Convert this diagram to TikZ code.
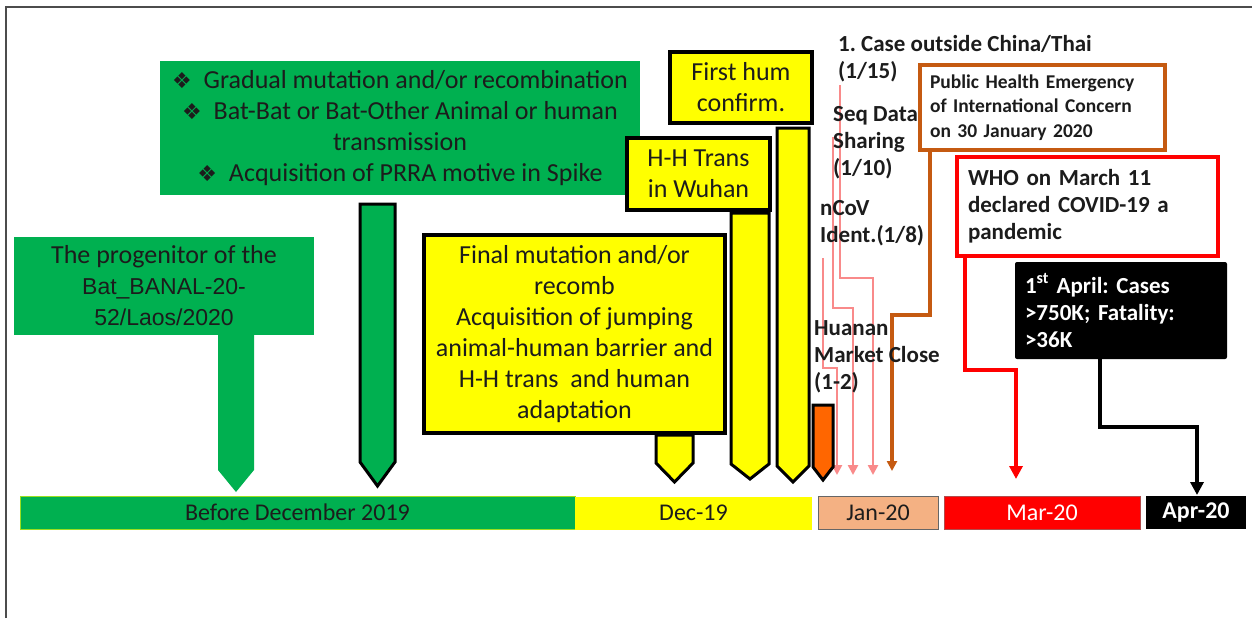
\documentclass[tikz,border=0pt]{standalone}
\usepackage{fontspec}
\setmainfont{Carlito}
\newfontfamily\dejavufont{DejaVu Sans}
\newfontfamily\arialfont{Liberation Sans}
\usetikzlibrary{arrows.meta,backgrounds}
\frenchspacing
\definecolor{tlgreen}{HTML}{00B050}
\definecolor{tlyellow}{HTML}{FFFF00}
\definecolor{tlorange}{HTML}{FF6600}
\definecolor{tlsalmon}{HTML}{F4B183}
\definecolor{tlred}{HTML}{FF0000}
\definecolor{tlbrown}{HTML}{C55A11}
\definecolor{tlpink}{HTML}{F98A8A}
\definecolor{txtdark}{HTML}{1C1C1C}
\newcommand\tlbul{{\dejavufont\fontsize{22}{22}\selectfont ❖}}
\begin{document}
\begin{tikzpicture}[x=1pt,y=-1pt,
  box/.style={inner sep=0pt, align=center, text=txtdark},
  greenbox/.style={box, fill=tlgreen},
  yelbox/.style={box, fill=tlyellow, draw=black, line width=3.5pt},
  big/.style={font=\fontsize{26}{31}\selectfont},
  lbl/.style={inner sep=0pt, align=left, anchor=west, text=txtdark, font=\bfseries\fontsize{23}{27}\selectfont},
  bar/.style={inner sep=0pt, minimum height=33pt, font=\fontsize{24}{26}\selectfont, text=txtdark},
  yarrow/.style={fill=tlyellow, draw=black, line width=3pt, line join=miter},
  conn/.style={line width=2.6pt},
  tip/.style={-{Triangle[length=10pt,width=10pt]}},
  bigtip/.style={-{Triangle[length=13pt,width=13pt]}}
]
\useasboundingbox (0,0) rectangle (1252,618);
\begin{scope}[on background layer]
\fill[white] (0,0) rectangle (1252,618);
\end{scope}
\draw[gray!60!black, line width=1.2pt] (6,618) -- (6,7) -- (1252,7);

% timeline bars
\node[bar, fill=tlgreen, draw=tlyellow!60!tlgreen, line width=0.8pt, minimum width=555pt] (before) at (297.5,512.5) {Before December 2019};
\node[bar, fill=tlyellow, minimum width=237pt] (dec) at (693.5,513) {Dec-19};
\node[bar, fill=tlsalmon, draw=gray!80!black, line width=0.8pt, minimum width=120pt] (jan) at (878,512.5) {Jan-20};
\node[bar, fill=tlred, draw=gray!60!red, line width=0.8pt, minimum width=196pt, text=white] (mar) at (1042,512.5) {Mar-20};
\node[bar, fill=black, minimum width=100pt, text=white, font=\bfseries\fontsize{24}{26}\selectfont] (apr) at (1196,512.5) {Apr-20};

% green boxes
\node[greenbox, big, minimum width=480pt, minimum height=134pt] (gradual) at (400,128)
  {\tlbul\ \ Gradual mutation and/or recombination\\
   \tlbul\ \ Bat-Bat or Bat-Other Animal or human\\
   transmission\\
   \tlbul\ \ Acquisition of PRRA motive in Spike};
\node[greenbox, big, minimum width=300pt, minimum height=98pt] (progen) at (164,286)
  {The progenitor of the\\
   {\arialfont\fontsize{23}{31}\selectfont Bat\_BANAL-20-}\\
   {\arialfont\fontsize{23}{31}\selectfont 52/Laos/2020}};

% green arrow shapes
\fill[tlgreen] (218,335) -- (254,335) -- (254,470) -- (236,492) -- (218,470) -- cycle;
\draw[fill=tlgreen, draw=black, line width=3pt] (360,204) -- (395,204) -- (395,462) -- (377.5,486) -- (360,462) -- cycle;

% yellow boxes
\node[yelbox, big, minimum width=301pt, minimum height=198pt] (final) at (574.5,334)
  {Final mutation and/or\\ recomb\\ Acquisition of jumping\\ animal-human barrier and\\ H-H trans~~and human\\ adaptation};
\node[yelbox, big, minimum width=143pt, minimum height=72pt] (hh) at (698.5,174) {H-H Trans\\ in Wuhan};
\node[yelbox, big, minimum width=142pt, minimum height=71pt] (firsthum) at (741,87.5) {First hum\\ confirm.};

% yellow arrow shapes
\draw[yarrow] (656,435) -- (693,435) -- (693,463) -- (674.5,482) -- (656,463) -- cycle;
\draw[yarrow] (731,213) -- (769,213) -- (769,464) -- (750,479) -- (731,464) -- cycle;
\draw[yarrow] (777,128) -- (809,128) -- (809,466) -- (793,482) -- (777,466) -- cycle;
\draw[fill=tlorange, draw=black, line width=3pt] (813,405) -- (833,405) -- (833,467) -- (823,480) -- (813,467) -- cycle;

% event boxes
\node[box, draw=tlbrown, line width=3.5pt, minimum width=245pt, minimum height=85pt, text width=225pt, align=left,
  font=\bfseries\fontsize{19.5}{24.5}\selectfont] (pheic) at (1042.5,107.5)
  {Public Health Emergency\\ of International Concern\\ on 30 January 2020};
\node[box, draw=tlred, line width=3.5pt, minimum width=261pt, minimum height=99pt, text width=239pt, align=left,
  font=\bfseries\fontsize{23}{27}\selectfont] (who) at (1087.5,206.5)
  {WHO on March 11\\ declared COVID-19 a\\ pandemic};
\node[box, fill=black, rounded corners=2pt, minimum width=212pt, minimum height=97pt, text width=192pt, align=left, text=white,
  font=\bfseries\fontsize{23}{27}\selectfont] (april) at (1121,310.5)
  {1\textsuperscript{st} April: Cases\\ >750K; Fatality:\\ >36K};

% label starts and tips
\coordinate (sIdent) at (823,258);
\coordinate (sSeq) at (833,137);
\coordinate (sCase) at (840,85);
\coordinate (tIdent) at (837,475);
\coordinate (tSeq) at (853,475);
\coordinate (tCase) at (873,475);
\coordinate (tPheic) at (892,471);
\coordinate (tWho) at (1016,479);
\coordinate (tApril) at (1197,495);

\begin{scope}[on background layer]
\draw[conn, tip, tlpink] (sIdent) -- ++(0,110) -| (tIdent);
\draw[conn, tip, tlpink] (sSeq) -- ++(0,171) -| (tSeq);
\draw[conn, tip, tlpink] (sCase) -- ++(0,193) -| (tCase);
\draw[conn, tip, tlbrown, line width=3.5pt] ([xshift=-112.5pt]pheic.south) -- ++(0,163) -| (tPheic);
\draw[conn, bigtip, tlred, line width=3.5pt] ([xshift=-122.5pt]who.south) -- ++(0,112) -| (tWho);
\draw[conn, bigtip, black, line width=3.5pt] ([xshift=-21pt]april.south) -- ++(0,68) -| (tApril);
\end{scope}

% free labels
\node[lbl] (lcase) at (838,59) {1. Case outside China/Thai\\(1/15)};
\node[lbl] (lseq) at (833,143) {Seq Data\\Sharing\\(1/10)};
\node[lbl] (lident) at (820,223) {nCoV\\Ident.(1/8)};
\node[lbl] (lhuanan) at (814,357) {Huanan\\Market Close\\(1-2)};
\end{tikzpicture}
\end{document}
